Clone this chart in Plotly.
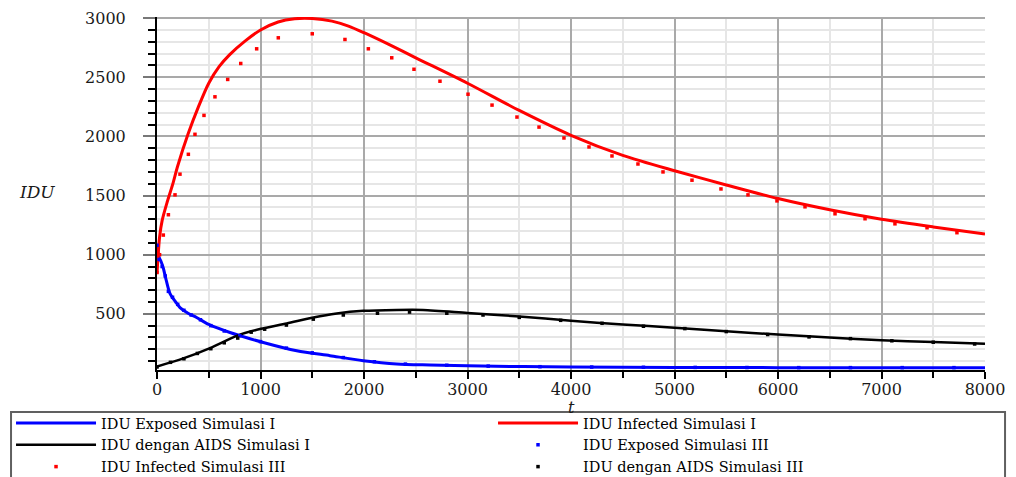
import plotly.graph_objects as go

# ---- data ----
t_exposed_1 = [0, 15, 40, 60, 90, 126, 180, 222, 300, 383, 500, 705, 1027, 1350, 1671, 1993, 2316, 2638, 3000, 4000, 5000, 6000, 7000, 8000]
exposed_1 = [1090, 990, 940, 890, 780, 670, 600, 553, 505, 469, 410, 342, 258, 188, 146, 104, 76, 67, 60, 50, 47, 45, 45, 45]

t_infected_1 = [0, 25, 50, 100, 150, 200, 300, 400, 500, 600, 700, 850, 1000, 1170, 1330, 1500, 1690, 1850, 2000, 2235, 2500, 3000, 3500, 4000, 4500, 5000, 5500, 6000, 6500, 7000, 7500, 8000]
infected_1 = [840, 1150, 1290, 1450, 1590, 1750, 2020, 2250, 2450, 2590, 2690, 2806, 2900, 2968, 2995, 2997, 2975, 2933, 2877, 2780, 2665, 2450, 2220, 2010, 1840, 1710, 1590, 1475, 1380, 1300, 1235, 1175]

t_aids_1 = [0, 254, 512, 770, 995, 1253, 1511, 1736, 1993, 2316, 2570, 3000, 3500, 4000, 4500, 5000, 5500, 6000, 6500, 7000, 7500, 8000]
aids_1 = [55, 123, 210, 314, 371, 418, 469, 503, 525, 533, 533, 508, 478, 442, 410, 383, 353, 325, 300, 277, 262, 247]

t_exposed_3 = [0, 20, 50, 80, 110, 150, 200, 260, 330, 420, 520, 650, 800, 1000, 1250, 1500, 1800, 2100, 2400, 2800, 3200, 3700, 4200, 4700, 5200, 5700, 6200, 6700, 7200, 7700]
exposed_3 = [1080, 960, 900, 820, 690, 640, 580, 530, 490, 450, 400, 355, 315, 265, 210, 170, 130, 95, 75, 65, 58, 53, 50, 48, 47, 46, 45, 45, 45, 45]

t_infected_3 = [0, 25, 61, 110, 174, 222, 303, 367, 454, 560, 683, 809, 963, 1172, 1500, 1816, 2042, 2268, 2483, 2734, 3005, 3237, 3478, 3691, 3932, 4174, 4396, 4647, 4889, 5169, 5449, 5710, 5990, 6261, 6551, 6841, 7130, 7440, 7729]
infected_3 = [850, 1000, 1166, 1338, 1506, 1681, 1849, 2018, 2178, 2335, 2482, 2617, 2741, 2834, 2868, 2820, 2741, 2665, 2568, 2467, 2357, 2265, 2164, 2079, 1987, 1911, 1835, 1767, 1700, 1630, 1556, 1506, 1455, 1405, 1346, 1304, 1261, 1228, 1186]

t_aids_3 = [0, 130, 260, 390, 520, 650, 780, 910, 1040, 1250, 1510, 1800, 2130, 2440, 2800, 3150, 3500, 3900, 4300, 4700, 5100, 5500, 5900, 6300, 6700, 7100, 7500, 7900]
aids_3 = [50, 90, 120, 165, 205, 255, 295, 345, 370, 405, 455, 490, 505, 515, 505, 490, 470, 445, 420, 395, 375, 350, 325, 305, 290, 272, 260, 245]

names = ["IDU Exposed Simulasi I", "IDU Infected Simulasi I", "IDU dengan AIDS Simulasi I",
         "IDU Exposed Simulasi III", "IDU Infected Simulasi III", "IDU dengan AIDS Simulasi III"]

x_ticks = [0, 1000, 2000, 3000, 4000, 5000, 6000, 7000, 8000]
y_ticks = [500, 1000, 1500, 2000, 2500, 3000]

SERIF = "DejaVu Serif"

fig = go.Figure()
fig.add_trace(go.Scatter(x=t_exposed_1, y=exposed_1, mode="lines", name=names[0],
                         line=dict(color="#0000ff", width=3, shape="spline", smoothing=0.8)))
fig.add_trace(go.Scatter(x=t_infected_1, y=infected_1, mode="lines", name=names[1],
                         line=dict(color="#ff0000", width=3, shape="spline", smoothing=0.8)))
fig.add_trace(go.Scatter(x=t_aids_1, y=aids_1, mode="lines", name=names[2],
                         line=dict(color="#000000", width=2.5, shape="spline", smoothing=0.8)))
fig.add_trace(go.Scatter(x=t_exposed_3, y=exposed_3, mode="markers", name=names[3],
                         marker=dict(color="#0000ff", size=3.5, symbol="square")))
fig.add_trace(go.Scatter(x=t_infected_3, y=infected_3, mode="markers", name=names[4],
                         marker=dict(color="#ff0000", size=3.5, symbol="square")))
fig.add_trace(go.Scatter(x=t_aids_3, y=aids_3, mode="markers", name=names[5],
                         marker=dict(color="#000000", size=3.5, symbol="square")))

fig.update_layout(
    width=1016, height=477,
    margin=dict(l=149, r=39, t=9, b=115, autoexpand=False),
    paper_bgcolor="white", plot_bgcolor="white",
    font=dict(family=SERIF, size=16, color="#1a1a1a"),
    showlegend=True,
    legend=dict(
        orientation="h", x=-0.1763, xanchor="left", y=-0.1048, yanchor="top",
        borderwidth=0, bgcolor="rgba(0,0,0,0)",
        font=dict(family=SERIF, size=14.5, color="#000000"),
        itemwidth=80, entrywidth=387, tracegroupgap=0,
    ),
    shapes=[
        dict(type="rect", xref="paper", yref="paper",
             x0=-0.1763, x1=1.0242, y0=-0.119, y1=-0.40,
             line=dict(color="#606060", width=2), fillcolor="rgba(0,0,0,0)", layer="above"),
    ],
    xaxis=dict(
        range=[0, 8000], tickvals=x_ticks, ticktext=[str(v) for v in x_ticks],
        showline=True, linecolor="black", linewidth=2,
        ticks="outside", ticklen=7, tickcolor="black", tickwidth=1.5,
        ticklabelstandoff=-3, ticklabeloverflow="allow",
        showgrid=True, gridcolor="#a9a9a9", gridwidth=1.5, zeroline=False,
        minor=dict(dtick=500, tick0=0, showgrid=True, gridcolor="#e6e6e6", gridwidth=1.5,
                   ticks="outside", ticklen=6, tickcolor="black"),
        tickfont=dict(family=SERIF, size=16, color="#1a1a1a"),
    ),
    yaxis=dict(
        range=[25, 3010], tickvals=y_ticks, ticktext=[str(v) for v in y_ticks],
        showline=True, linecolor="black", linewidth=2,
        ticks="outside", ticklen=12, tickcolor="#777777", tickwidth=1.5,
        ticklabelstandoff=14, ticklabeloverflow="allow",
        showgrid=True, gridcolor="#a9a9a9", gridwidth=1.5, zeroline=False,
        minor=dict(dtick=100, tick0=0, showgrid=True, gridcolor="#e6e6e6", gridwidth=1.5,
                   ticks="outside", ticklen=7, tickcolor="black"),
        tickfont=dict(family=SERIF, size=16, color="#1a1a1a"),
    ),
    annotations=[
        dict(text="IDU", xref="paper", yref="paper", x=-0.145, y=0.504,
             showarrow=False, xanchor="center", yanchor="middle",
             font=dict(family=SERIF, size=17, style="italic", color="#1a1a1a")),
        dict(text="t", xref="paper", yref="paper", x=0.5, y=-0.1076,
             showarrow=False, xanchor="center", yanchor="middle",
             font=dict(family=SERIF, size=16, style="italic", color="#1a1a1a")),
    ],
)

fig.write_html("out.html")
